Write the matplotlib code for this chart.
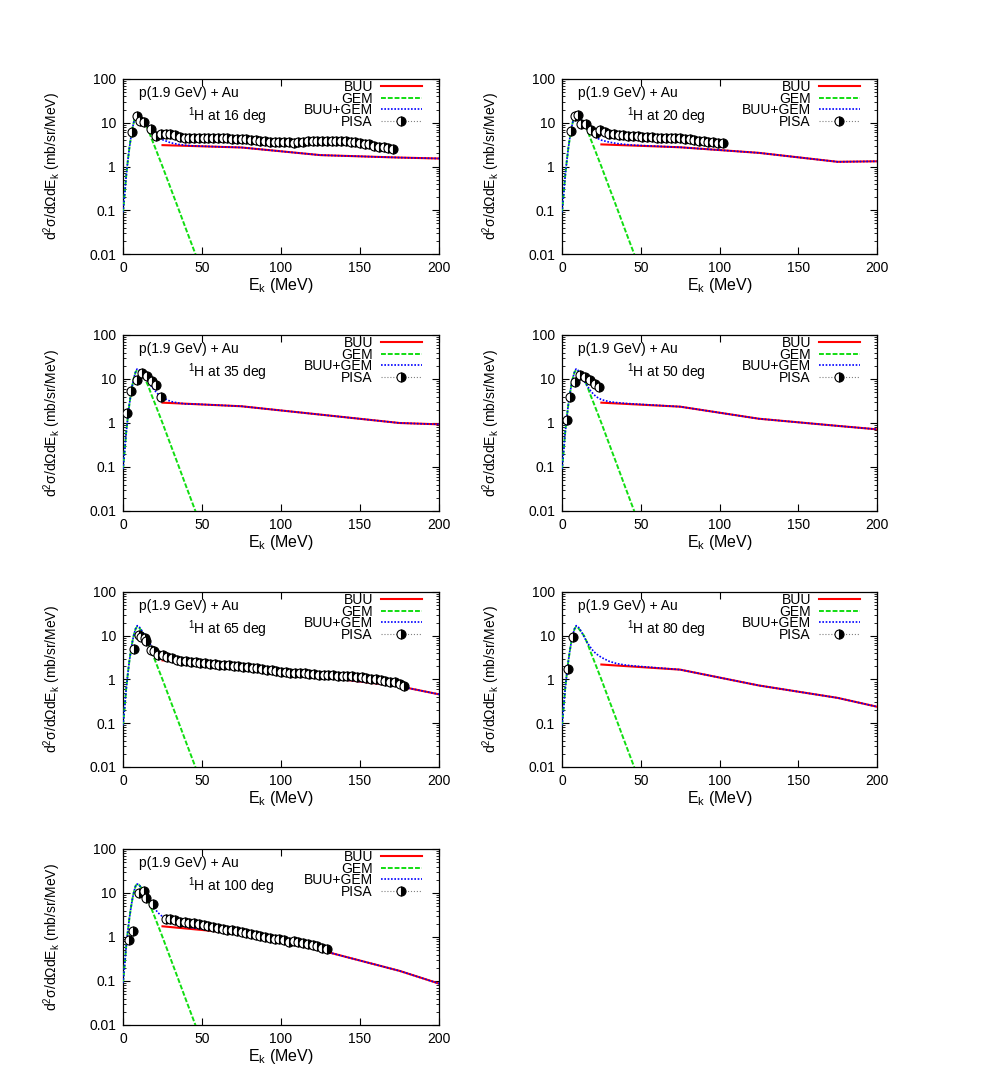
import matplotlib
matplotlib.use("Agg")
import matplotlib.pyplot as plt
from matplotlib.lines import Line2D
from matplotlib.ticker import FixedLocator, LogLocator, NullFormatter, FuncFormatter

plt.rcParams["font.family"] = ["Liberation Sans", "DejaVu Sans"]
plt.rcParams["mathtext.fontset"] = "custom"
plt.rcParams["mathtext.rm"] = "Liberation Sans"
plt.rcParams["mathtext.it"] = "Liberation Sans:italic"
plt.rcParams["mathtext.default"] = "regular"

# ---- data -------------------------------------------------------------
angles = [16, 20, 35, 50, 65, 80, 100]

# GEM evaporation spectrum (same for all angles)
gem_e = [0, 1, 2, 3, 4, 5, 6, 7, 8, 9, 10, 11, 12, 14, 16, 18, 20, 25, 30, 35, 40, 45, 50]
gem_v = [0.09, 0.22, 0.6, 1.3, 2.6, 4.6, 7.5, 11, 14.5, 16, 15.5, 14, 12.5, 10, 6.9, 4.4,
         2.9, 1.0, 0.33, 0.11, 0.036, 0.012, 0.004]

# BUU spectra (knots)
buu_e = [25, 75, 125, 175, 225]
buu_v = {
    16: [3.08, 2.72, 1.82, 1.6, 1.45],
    20: [3.2, 2.75, 2.05, 1.28, 1.35],
    35: [2.9, 2.4, 1.55, 1.0, 0.87],
    50: [2.9, 2.35, 1.25, 0.86, 0.6],
    65: [2.74, 1.94, 1.15, 0.7, 0.3],
    80: [2.2, 1.68, 0.73, 0.38, 0.15],
    100: [1.75, 1.19, 0.5, 0.17, 0.045],
}

# BUU+GEM at low energy (continues with BUU above 45 MeV)
sum_e = [0, 1, 2, 3, 4, 5, 6, 7, 8, 9, 10, 12, 14, 16, 18, 20, 22, 25, 30, 35, 40, 45]
sum_rise = [0.09, 0.22, 0.6, 1.3, 2.6, 4.6, 7.5, 11, 14.5]
sum_v = {
    16: sum_rise + [16, 16, 13, 10.5, 8.5, 7, 5.6, 4.8, 4.1, 3.5, 3.2, 3.05, 2.95],
    20: sum_rise + [16, 15.5, 12, 10, 7.8, 6.2, 5.2, 4.5, 4.0, 3.6, 3.35, 3.2, 3.08],
    35: sum_rise + [17, 16.5, 14, 11, 8.5, 6.8, 5.5, 4.6, 3.8, 3.1, 2.85, 2.7, 2.7],
    50: sum_rise + [17, 16, 12, 9, 7, 5.5, 4.5, 3.9, 3.4, 3.05, 2.9, 2.8, 2.72],
    65: sum_rise + [17, 16.5, 13, 10, 7.5, 5.8, 4.6, 3.8, 3.2, 2.8, 2.6, 2.5, 2.42],
    80: sum_rise + [17, 16.5, 13, 9.5, 7, 5.5, 4.4, 3.8, 3.2, 2.6, 2.3, 2.15, 2.05],
    100: sum_rise + [16, 15.5, 12.5, 10, 7.5, 5.8, 4.5, 3.6, 2.9, 2.2, 1.9, 1.7, 1.6],
}

# PISA experimental data
pisa_e = {
    16: [5.5, 9, 11, 13.5, 18, 21, 24, 27, 30, 33, 36, 39, 42, 45, 48, 51, 54, 57, 60, 63,
         66, 69, 72, 75, 78, 81, 84, 87, 90, 93, 96, 99, 102, 105, 108, 111, 114, 117, 120,
         123, 126, 129, 132, 135, 138, 141, 144, 147, 150, 153, 156, 159, 162, 165, 168, 171],
    20: [5.5, 8.5, 10, 12, 15, 18.5, 21.5, 24, 27, 30, 33, 36, 39, 42, 45, 48, 51, 54, 57,
         60, 63, 66, 69, 72, 75, 78, 81, 84, 87, 90, 93, 96, 99, 102],
    35: [2.5, 5.3, 8.9, 12.2, 15.2, 18.4, 21.1, 24.3],
    50: [3.2, 5.3, 8.0, 11.2, 14.8, 18, 21, 23.5],
    65: [6.8, 10.1, 11.6, 13.7, 14.8, 17.5, 19.6, 22, 25, 28, 31, 34, 37, 40, 43, 46, 49,
         52, 55, 58, 61, 64, 67, 70, 73, 76, 79, 82, 85, 88, 91, 94, 97, 100, 103, 106, 109,
         112, 115, 118, 121, 124, 127, 130, 133, 136, 139, 142, 145, 148, 151, 154, 157,
         160, 163, 166, 169, 172, 175, 178],
    80: [3.6, 6.8],
    100: [3.5, 6.5, 9.9, 13, 14.8, 19, 27, 30, 33, 36, 39, 42, 45, 48, 51, 54, 57, 60, 63,
          66, 69, 72, 75, 78, 81, 84, 87, 90, 93, 96, 99, 102, 105, 108, 111, 114, 117, 120,
          123, 126, 129],
}
pisa_v = {
    16: [6.2, 14, 10.8, 10.3, 7.3, 5.0, 5.5, 5.6, 5.4, 5.3, 4.7, 4.5, 4.4, 4.5, 4.5, 4.5,
         4.6, 4.6, 4.6, 4.5, 4.4, 4.3, 4.3, 4.2, 4.3, 4.1, 4.0, 3.9, 3.8, 3.7, 3.7, 3.6, 3.6,
         3.6, 3.5, 3.7, 3.7, 3.9, 3.9, 3.8, 3.9, 3.9, 3.9, 3.8, 3.9, 3.8, 3.7, 3.6, 3.4, 3.3,
         3.2, 3.0, 2.8, 2.8, 2.7, 2.5],
    20: [6.5, 14.5, 14.8, 9.3, 9.5, 7.0, 5.8, 6.8, 6.0, 5.6, 5.4, 5.2, 5.2, 5.1, 5.1, 4.9,
         4.8, 4.8, 4.7, 4.6, 4.6, 4.5, 4.5, 4.5, 4.4, 4.3, 4.3, 4.0, 3.9, 3.8, 3.7, 3.6, 3.5,
         3.4],
    35: [1.7, 5.2, 9.3, 14, 12, 9.2, 7.3, 3.9],
    50: [1.2, 4.0, 8.4, 12.4, 10.9, 9.3, 7.7, 6.6],
    65: [4.9, 10.3, 9.3, 8.8, 7.4, 4.8, 4.6, 3.7, 3.7, 3.3, 3.05, 2.85, 2.7, 2.6, 2.5, 2.45,
         2.4, 2.35, 2.3, 2.25, 2.2, 2.15, 2.1, 2.05, 2.0, 1.97, 1.92, 1.88, 1.85, 1.75, 1.68,
         1.62, 1.56, 1.5, 1.46, 1.43, 1.4, 1.4, 1.38, 1.35, 1.32, 1.3, 1.3, 1.28, 1.25, 1.22,
         1.2, 1.2, 1.18, 1.15, 1.12, 1.08, 1.05, 1.0, 0.97, 0.94, 0.9, 0.86, 0.8, 0.72],
    80: [1.7, 9.2],
    100: [0.87, 1.37, 10.2, 11.3, 7.9, 5.6, 2.6, 2.5, 2.4, 2.25, 2.15, 2.1, 2.05, 2.0, 1.85,
          1.75, 1.65, 1.6, 1.5, 1.45, 1.42, 1.4, 1.33, 1.25, 1.2, 1.12, 1.06, 1.0, 0.96,
          0.92, 0.88, 0.85, 0.78, 0.82, 0.76, 0.72, 0.68, 0.65, 0.61, 0.57, 0.53],
}

x_ticks = [0, 50, 100, 150, 200]
y_ticks = [0.01, 0.1, 1, 10, 100]

# ---- layout (pixel boxes of the axes) ---------------------------------
W, H = 981, 1090
col_px = [(123, 439), (562, 877)]
row_px = [(79, 254), (335, 511), (592, 767), (849, 1025)]

FS = 10
RED = "#ff0000"
GREEN = "#11dd11"
BLUE = "#0000ff"


def rect(col, row):
    x0, x1 = col_px[col]
    y0, y1 = row_px[row]
    return [x0 / W, 1 - y1 / H, (x1 - x0) / W, (y1 - y0) / H]


def draw_panel(ax, ang):
    ax.plot(buu_e, buu_v[ang], color=RED, lw=1.5, label="BUU", zorder=3)
    ax.plot(gem_e, gem_v, color=GREEN, lw=1.4, ls=(0, (2.5, 1)), label="GEM", zorder=3)
    blue_e = sum_e + buu_e[1:]
    blue_v = sum_v[ang] + buu_v[ang][1:]
    ax.plot(blue_e, blue_v, color=BLUE, lw=1.2, ls=(0, (1, 1)), label="BUU+GEM", zorder=4)
    ax.plot(pisa_e[ang], pisa_v[ang], ls="none", marker="o", ms=6.5, fillstyle="right",
            mfc="black", mfcalt="white", mec="black", mew=0.8, zorder=5)

    ax.set_yscale("log")
    ax.set_xlim(0, 200)
    ax.set_ylim(0.01, 100)
    ax.xaxis.set_major_locator(FixedLocator(x_ticks))
    ax.yaxis.set_major_locator(FixedLocator(y_ticks))
    ax.yaxis.set_major_formatter(FuncFormatter(lambda v, p: "%g" % v))
    ax.yaxis.set_minor_locator(LogLocator(base=10, subs=range(2, 10)))
    ax.yaxis.set_minor_formatter(NullFormatter())
    ax.tick_params(which="both", direction="in", top=True, right=True, labelsize=FS)
    ax.tick_params(which="major", length=5, width=0.8, pad=5)
    ax.tick_params(which="minor", length=2.5, width=0.6)
    for s in ax.spines.values():
        s.set_linewidth(0.9)

    ax.set_xlabel("E$_k$ (MeV)", fontsize=11.5, labelpad=1)
    ax.set_ylabel("d$^2$σ/dΩdE$_k$ (mb/sr/MeV)", fontsize=10)
    ax.yaxis.set_label_coords(-0.19, 0.5)

    ax.text(0.05, 0.922, "p(1.9 GeV) + Au", transform=ax.transAxes, fontsize=FS,
            ha="left", va="center")
    ax.text(0.205, 0.79, "$^1$H at %d deg" % ang, transform=ax.transAxes, fontsize=FS,
            ha="left", va="center")

    handles, labels = ax.get_legend_handles_labels()
    pisa_h = Line2D([], [], color="gray", lw=0.8, ls=":", marker="o", ms=6.5,
                    fillstyle="right", mfc="black", mfcalt="white", mec="black", mew=0.8)
    ax.legend(handles + [pisa_h], labels + ["PISA"], loc="upper right",
              bbox_to_anchor=(0.947, 0.995), frameon=False, markerfirst=False,
              fontsize=FS, handlelength=3.0, handletextpad=0.55, labelspacing=-0.17,
              borderpad=0.0, borderaxespad=0.0, numpoints=1)


fig = plt.figure(figsize=(W / 100, H / 100), dpi=100)
for i, ang in enumerate(angles):
    ax = fig.add_axes(rect(i % 2, i // 2))
    draw_panel(ax, ang)

fig.savefig("out.png", dpi=100)
